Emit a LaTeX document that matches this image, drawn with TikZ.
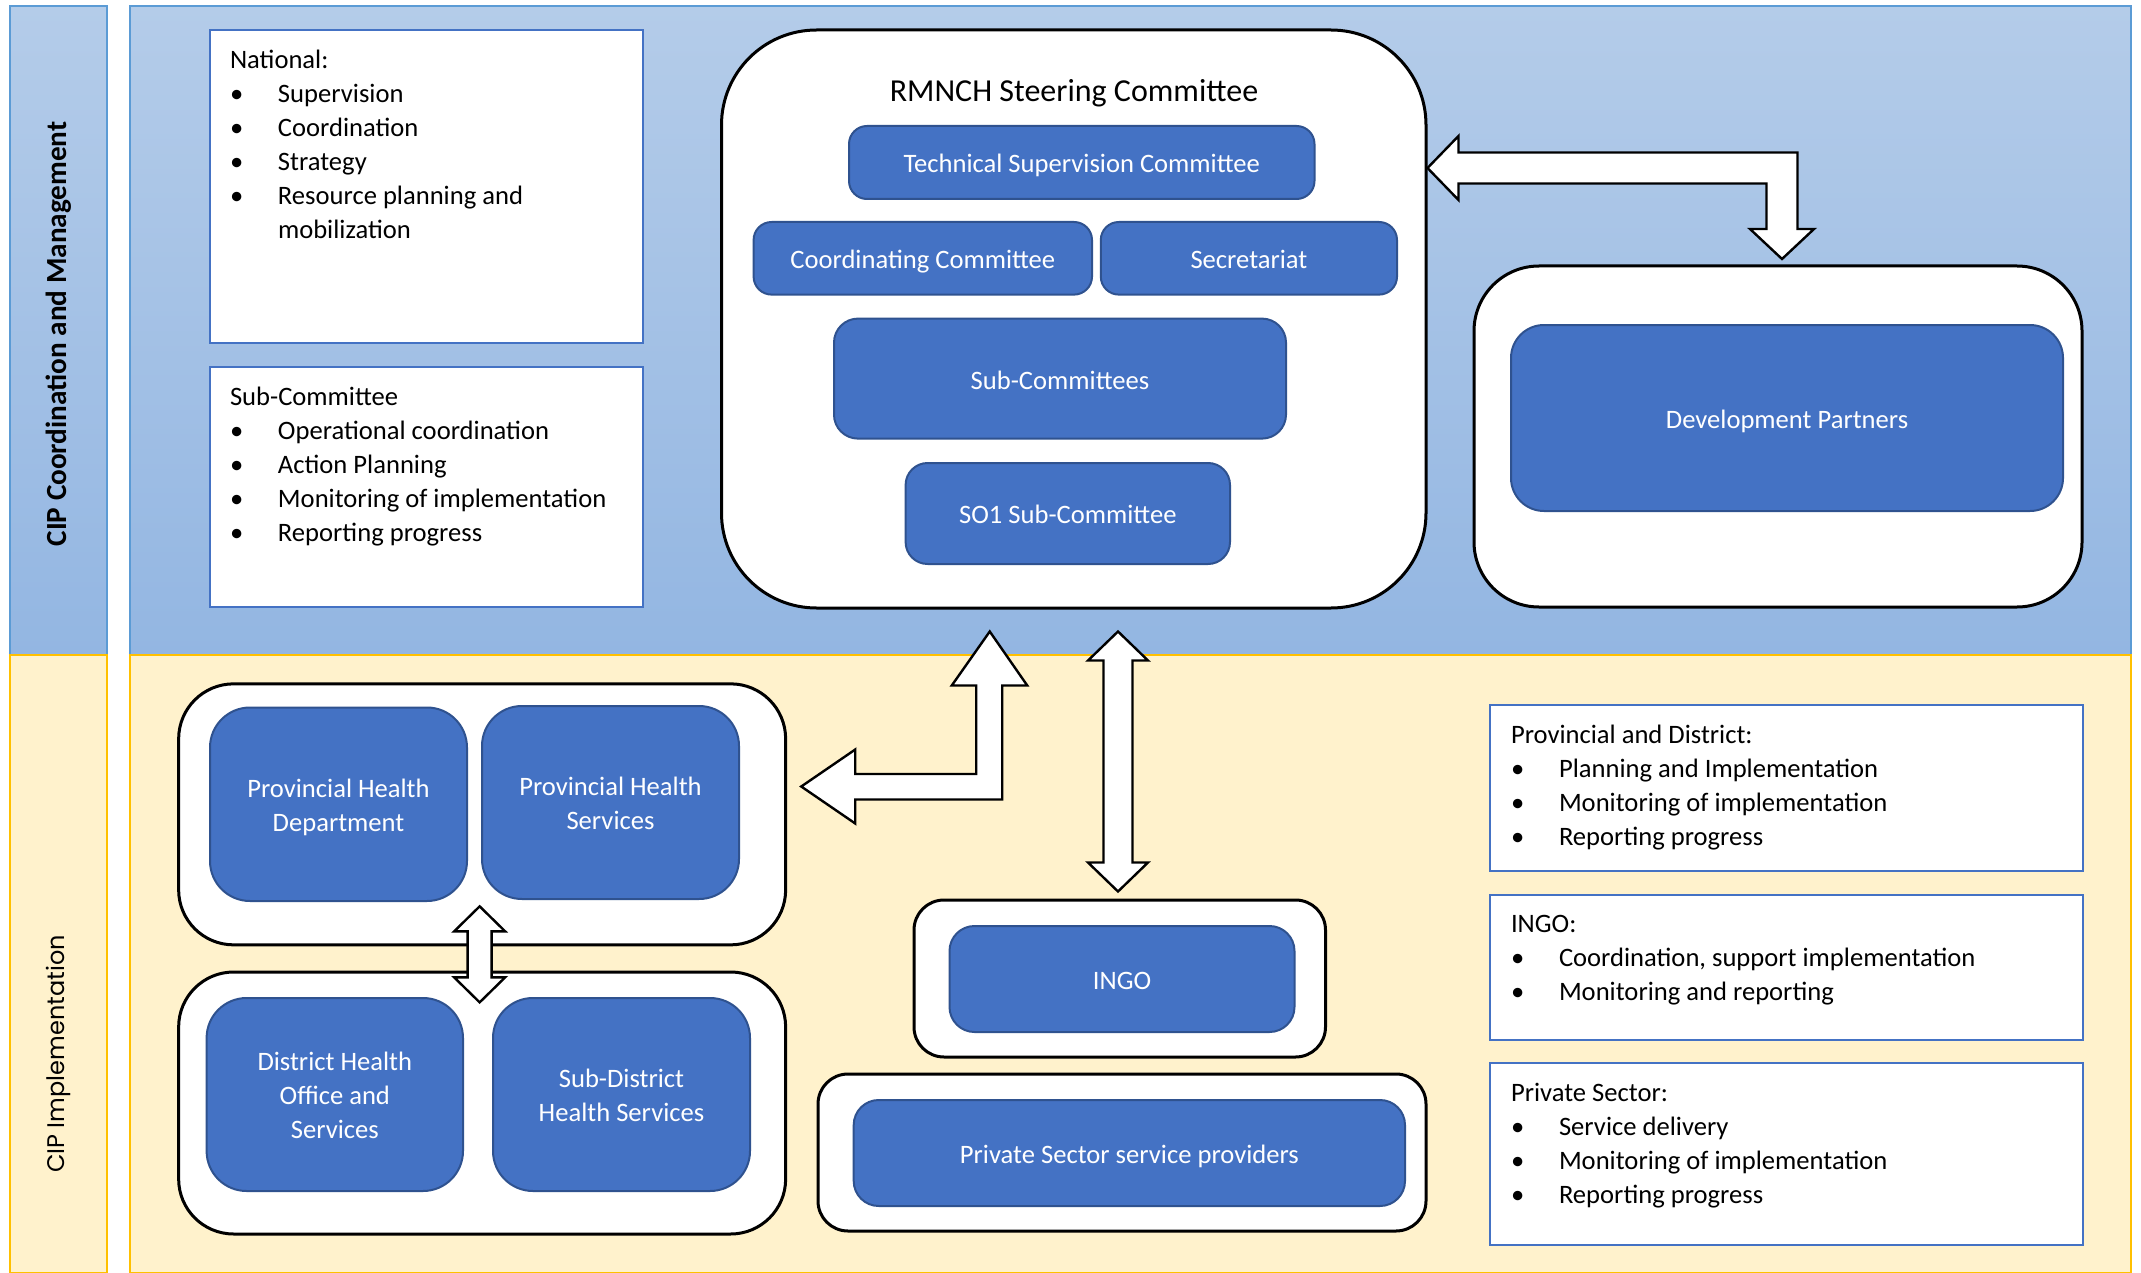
\documentclass[tikz,border=0pt]{standalone}
\usepackage{fontspec}
\setmainfont{Carlito}
\newfontfamily\geofont{Poppins}
\usetikzlibrary{calc}

\definecolor{bandtop}{HTML}{B4CCE9}
\definecolor{bandbot}{HTML}{93B6E2}
\definecolor{bandedge}{HTML}{5B9BD5}
\definecolor{bandyellow}{HTML}{FFF2CC}
\definecolor{yellowedge}{HTML}{FFC000}
\definecolor{boxblue}{HTML}{4472C4}
\definecolor{boxedge}{HTML}{2F528F}

\newcommand\bitem{\makebox[24pt][l]{\textbullet}}
\newcommand\ustrut{\rule[-3pt]{0pt}{16.4pt}}

\begin{document}
\begin{tikzpicture}[x=0.5pt, y=-0.5pt, font=\fontsize{13.3}{17}\selectfont,
  txtbox/.style={draw=boxblue, line width=1.4pt, fill=white, inner sep=0pt},
  listtxt/.style={anchor=north west, align=left, inner sep=0pt},
  holder/.style={draw=black, line width=1.5pt, fill=white, inner sep=0pt},
  unit/.style={draw=boxedge, line width=1pt, fill=boxblue, text=white,
    align=center, rounded corners=9pt, inner sep=0pt},
  blockarrow/.style={draw=black, fill=white, line width=1.2pt, line join=miter}]
  \useasboundingbox (0,0) rectangle (2141,1273);

  % bands
  \shadedraw[top color=bandtop, bottom color=bandbot, draw=bandedge, line width=0.6pt] (10,6) rectangle (107,655);
  \shadedraw[top color=bandtop, bottom color=bandbot, draw=bandedge, line width=0.6pt] (130,6) rectangle (2131,655);
  \filldraw[fill=bandyellow, draw=yellowedge, line width=0.6pt] (10,655) rectangle (107,1273);
  \filldraw[fill=bandyellow, draw=yellowedge, line width=0.6pt] (130,655) rectangle (2131,1273);
  \node[rotate=90] (cipcm) at (58.5,334) {\bfseries\fontsize{14.6}{17}\selectfont CIP Coordination and Management};
  \node[rotate=90] (cipimp) at (58.7,1054) {\geofont\fontsize{12}{15}\selectfont CIP Implementation};

  % role lists, top left
  \node[txtbox, minimum width=216.5pt, minimum height=156.5pt] (natbox) at (426.5,186.5) {};
  \node[listtxt] (natlist) at ($(natbox.north west)+(21,21)$) {National:\\
    \bitem Supervision\\ \bitem Coordination\\ \bitem Strategy\\
    \bitem Resource planning and\\ \hspace*{24pt}mobilization};
  \node[txtbox, minimum width=216.5pt, minimum height=120pt] (subbox) at (426.5,487) {};
  \node[listtxt] (sublist) at ($(subbox.north west)+(21,21)$) {Sub-Committee\\
    \bitem Operational coordination\\ \bitem Action Planning\\
    \bitem Monitoring of implementation\\ \bitem Reporting progress};

  % steering committee
  \node[holder, rounded corners=47.5pt, minimum width=352.25pt, minimum height=289pt] (rmnch) at (1073.75,319) {};
  \node (rmnchtitle) at (1074,93) {\fontsize{16}{19}\selectfont RMNCH Steering Committee};
  \node[unit, minimum width=232.75pt, minimum height=36.5pt] (tsc) at (1081.75,162.5) {\ustrut Technical Supervision Committee};
  \node[unit, minimum width=169.2pt, minimum height=36.3pt] (coord) at (922.8,258.3) {\ustrut Coordinating Committee};
  \node[unit, minimum width=148.1pt, minimum height=36.3pt] (secr) at (1248.9,258.3) {\ustrut Secretariat};
  \node[unit, rounded corners=12pt, minimum width=226pt, minimum height=60pt] (subs) at (1060,378.6) {\ustrut Sub-Committees};
  \node[unit, rounded corners=11pt, minimum width=162.2pt, minimum height=50.5pt] (so1) at (1067.8,513.5) {\ustrut SO1 Sub-Committee};

  % development partners
  \node[holder, rounded corners=32.5pt, minimum width=304pt, minimum height=170.5pt] (devout) at (1778,436.5) {};
  \node[unit, rounded corners=16.5pt, minimum width=276pt, minimum height=93pt] (devin) at (1787,418) {\ustrut Development Partners};

  % provincial and district
  \node[holder, rounded corners=27.5pt, minimum width=303.5pt, minimum height=130.5pt] (provout) at (482.15,814.35) {};
  \node[unit, rounded corners=20pt, minimum width=128.5pt, minimum height=96.75pt] (phd) at (338.5,804.25) {\ustrut Provincial Health\\Department\ustrut};
  \node[unit, rounded corners=20pt, minimum width=128.5pt, minimum height=96.5pt] (phs) at (610.5,802.5) {\ustrut Provincial Health\\Services\ustrut};
  \node[holder, rounded corners=27.5pt, minimum width=303.5pt, minimum height=131pt] (distout) at (482.15,1103) {};
  \node[unit, rounded corners=20pt, minimum width=128.2pt, minimum height=96.5pt] (dho) at (334.8,1094.5) {\ustrut District Health\\Office and\\Services\ustrut};
  \node[unit, rounded corners=20pt, minimum width=128.5pt, minimum height=96.5pt] (sdhs) at (621.5,1094.5) {\ustrut Sub-District\\Health Services\ustrut};

  % ingo and private sector
  \node[holder, rounded corners=15pt, minimum width=205.75pt, minimum height=78.5pt] (ingoout) at (1119.75,978.5) {};
  \node[unit, rounded corners=12.5pt, minimum width=172.5pt, minimum height=53pt] (ingoin) at (1122,979) {\ustrut INGO};
  \node[holder, rounded corners=15pt, minimum width=304pt, minimum height=78.5pt] (privout) at (1122,1152.5) {};
  \node[unit, rounded corners=12.5pt, minimum width=275.65pt, minimum height=53pt] (privin) at (1129.35,1153) {\ustrut Private Sector service providers};

  % role lists, bottom right
  \node[txtbox, minimum width=296.5pt, minimum height=83pt] (pdbox) at (1786.5,788) {};
  \node[listtxt] (pdlist) at ($(pdbox.north west)+(22,21)$) {Provincial and District:\\
    \bitem Planning and Implementation\\ \bitem Monitoring of implementation\\
    \bitem Reporting progress};
  \node[txtbox, minimum width=296.5pt, minimum height=72.5pt] (ingobox) at (1786.5,967.5) {};
  \node[listtxt] (ingolist) at ($(ingobox.north west)+(22,21)$) {INGO:\\
    \bitem Coordination, support implementation\\ \bitem Monitoring and reporting};
  \node[txtbox, minimum width=296.5pt, minimum height=91pt] (psbox) at (1786.5,1154) {};
  \node[listtxt] (pslist) at ($(psbox.north west)+(22,21)$) {Private Sector:\\
    \bitem Service delivery\\ \bitem Monitoring of implementation\\
    \bitem Reporting progress};

  % block arrows
  \coordinate (tipR) at ($(rmnch.east)+(0,-151)$);
  \draw[blockarrow] (tipR) -- ++(31,-32) -- ++(0,16.5) -- ++(339,0) -- ++(0,76.5)
    -- ++(16.5,0) -- ++(-32,30) -- ++(-32,-30) -- ++(16.5,0) -- ++(0,-45.5)
    -- ++(-308,0) -- ++(0,16.5) -- cycle;
  \coordinate (tipL) at ($(rmnch.south)+(-84,22)$);
  \draw[blockarrow] (tipL) -- ++(37.5,54) -- ++(-25,0) -- ++(0,114) -- ++(-147,0)
    -- ++(0,24) -- ++(-54,-37) -- ++(54,-37) -- ++(0,24.5) -- ++(121,0)
    -- ++(0,-88.5) -- ++(-24.5,0) -- cycle;
  \coordinate (tipI) at ($(rmnch.south)+(44.25,22)$);
  \draw[blockarrow] (tipI) -- ++(30,29) -- ++(-15.5,0) -- ++(0,202) -- ++(15.5,0)
    -- ++(-30,29) -- ++(-30,-29) -- ++(15.5,0) -- ++(0,-202) -- ++(-15.5,0) -- cycle;
  \coordinate (tipP) at ($(provout.south)+(-2.5,-40)$);
  \draw[blockarrow] (tipP) -- ++(25.5,25) -- ++(-13.5,0) -- ++(0,46) -- ++(13.5,0)
    -- ++(-25.5,25) -- ++(-25.5,-25) -- ++(13.5,0) -- ++(0,-46) -- ++(-13.5,0) -- cycle;
\end{tikzpicture}
\end{document}
